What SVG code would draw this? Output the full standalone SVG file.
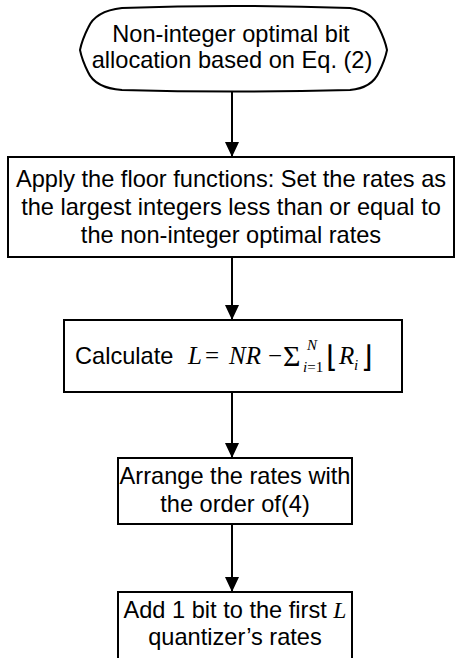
<svg xmlns="http://www.w3.org/2000/svg" width="455" height="658" viewBox="0 0 455 658">
<defs>
<style>
.box{fill:#fff;stroke:#000;stroke-width:2}
.t{font-family:"Liberation Sans",Arial,sans-serif;font-size:23.6px;fill:#000;text-anchor:middle}
.m{font-family:"Liberation Serif","Times New Roman",serif;font-size:25px;fill:#000}
.mi{font-style:italic}
.s{font-size:15px}
.c{stroke:#000;stroke-width:2;fill:none}
</style>
<marker id="ah" markerWidth="15" markerHeight="14" refX="15" refY="7" orient="auto" markerUnits="userSpaceOnUse" viewBox="0 0 15 14">
<path d="M0,0 L15,7 L0,14 Z" fill="#000"/>
</marker>
</defs>
<rect width="455" height="658" fill="#fff"/>
<g id="connectors">
<line class="c" x1="232" y1="90" x2="232" y2="157" marker-end="url(#ah)"/>
<line class="c" x1="232" y1="257" x2="232" y2="320" marker-end="url(#ah)"/>
<line class="c" x1="232" y1="392" x2="232" y2="458" marker-end="url(#ah)"/>
<line class="c" x1="232" y1="524" x2="232" y2="592" marker-end="url(#ah)"/>
</g>
<g id="start">
<path class="box" d="M122,8 Q232,4 350,8 Q372,11 379,28 Q385,40 387,50 Q385,60 379,72 Q372,88 350,90 Q232,93 122,90 Q95,88 88,72 Q82,60 80,50 Q82,40 88,28 Q95,11 122,8 Z"/>
<text class="t" x="231" y="42">Non-integer optimal bit</text>
<text class="t" x="232" y="68">allocation based on Eq. (2)</text>
</g>
<g id="floor">
<rect class="box" x="8" y="157" width="446" height="100"/>
<text class="t" x="231" y="187">Apply  the floor functions: Set the rates as</text>
<text class="t" x="231" y="215">the largest integers less than or equal to</text>
<text class="t" x="231" y="243">the non-integer optimal rates</text>
</g>
<g id="calculate">
<rect class="box" x="64" y="320" width="338" height="72"/>
<text class="t" x="75" y="364" style="text-anchor:start">Calculate</text>
<text class="m" y="364"><tspan class="mi" x="188">L</tspan><tspan x="205">=</tspan><tspan class="mi" x="229">NR</tspan><tspan x="268">−</tspan></text>
<text class="m" style="font-size:30px" x="283" y="366">Σ</text>
<text class="m mi s" x="307" y="350">N</text>
<text class="m s" x="303" y="372"><tspan class="mi">i</tspan>=1</text>
<text class="m" style="font-size:30px" x="326" y="367">⌊</text>
<text class="m mi" x="339" y="364">R</text>
<text class="m mi s" x="354" y="370">i</text>
<text class="m" style="font-size:30px" x="361" y="367">⌋</text>
</g>
<g id="arrange">
<rect class="box" x="118" y="458" width="234" height="66"/>
<text class="t" x="235" y="484">Arrange the rates with</text>
<text class="t" x="235" y="512">the order of(4)</text>
</g>
<g id="add">
<rect class="box" x="118" y="592" width="234" height="70"/>
<text class="t" x="235" y="618">Add 1 bit to the first <tspan style="font-family:'Liberation Serif',serif;font-style:italic">L</tspan></text>
<text class="t" x="235" y="645">quantizer’s rates</text>
</g>
</svg>
